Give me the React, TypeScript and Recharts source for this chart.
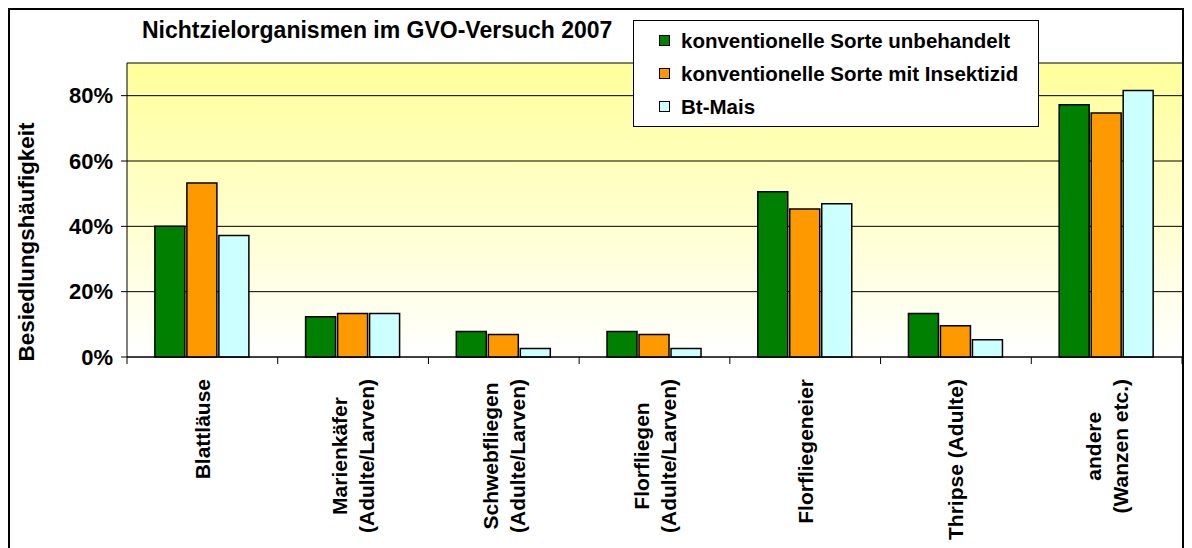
import { BarChart, Bar, XAxis, YAxis, CartesianGrid, Legend } from "recharts";

const categories = [
    "Blattläuse",
    "Marienkäfer\n(Adulte/Larven)",
    "Schwebfliegen\n(Adulte/Larven)",
    "Florfliegen\n(Adulte/Larven)",
    "Florfliegeneier",
    "Thripse (Adulte)",
    "andere\n(Wanzen etc.)",
];

const unbehandelt = [40, 12.3, 7.8, 7.8, 50.6, 13.3, 77.2];
const insektizid = [53.3, 13.3, 6.9, 6.9, 45.3, 9.6, 74.7];
const btMais = [37.2, 13.3, 2.6, 2.6, 46.9, 5.3, 81.6];

const yTicks = [0, 20, 40, 60, 80];

const SERIES = [
    { key: "unbehandelt", name: "konventionelle Sorte unbehandelt", color: "#008000" },
    { key: "insektizid", name: "konventionelle Sorte mit Insektizid", color: "#FF9900" },
    { key: "btMais", name: "Bt-Mais", color: "#CCFFFF" },
];

const data = categories.map((c, i) => ({
    name: c,
    unbehandelt: unbehandelt[i],
    insektizid: insektizid[i],
    btMais: btMais[i],
}));

const FONT = "'Liberation Sans', Arial, sans-serif";
const W = 1176;
const H = 540;
const MARGIN = { top: 55, right: 2, left: 0, bottom: 0 };
const Y_AXIS_W = 119;
const X_AXIS_H = 191;
const LABEL_FONT_SIZE = 21;
const LABEL_TOP = 22;
const LINE_H = 27;

let ctx: CanvasRenderingContext2D | null = null;
function textWidth(s: string) {
    if (!ctx) ctx = document.createElement("canvas").getContext("2d");
    if (!ctx) return s.length * 11;
    ctx.font = `bold ${LABEL_FONT_SIZE}px ${FONT}`;
    return ctx.measureText(s).width;
}

// category labels: rotated, lines centred, block hanging from the axis
function XTick(props: any) {
    const { x, y, payload, index } = props;
    const lines = String(payload.value).split("\n");
    const band = (W - MARGIN.left - MARGIN.right - Y_AXIS_W) / categories.length;
    const axisY = y - 6;
    const maxW = Math.max(...lines.map((l) => textWidth(l)));
    const cx = -(LABEL_TOP + maxW / 2);
    const y0 = (-(lines.length - 1) * LINE_H) / 2;
    return (
        <g>
            <line x1={x - band / 2} x2={x - band / 2} y1={axisY} y2={axisY + 7} stroke="#000" />
            {index === categories.length - 1 && (
                <line x1={x + band / 2} x2={x + band / 2} y1={axisY} y2={axisY + 7} stroke="#000" />
            )}
            <g transform={`translate(${x},${axisY}) rotate(-90)`}>
                {lines.map((l, i) => (
                    <text
                        key={i}
                        x={cx}
                        y={y0 + i * LINE_H}
                        textAnchor="middle"
                        dominantBaseline="central"
                        fontFamily={FONT}
                        fontWeight="bold"
                        fontSize={LABEL_FONT_SIZE}
                        fill="#000"
                    >
                        {l}
                    </text>
                ))}
            </g>
        </g>
    );
}

function LegendBox() {
    return (
        <div
            style={{
                border: "1px solid #000",
                background: "#fff",
                width: 406,
                height: 107,
                boxSizing: "border-box",
                paddingTop: 3,
                paddingLeft: 25,
            }}
        >
            {SERIES.map((s) => (
                <div key={s.key} style={{ display: "flex", alignItems: "center", height: 33 }}>
                    <span
                        style={{
                            display: "inline-block",
                            width: 9,
                            height: 9,
                            border: "1px solid #000",
                            background: s.color,
                            marginRight: 11,
                        }}
                    />
                    <span style={{ fontFamily: FONT, fontWeight: "bold", fontSize: 20.5, color: "#000" }}>
                        {s.name}
                    </span>
                </div>
            ))}
        </div>
    );
}

export default function App() {
    return (
        <div style={{ position: "relative", width: W, height: H, overflow: "hidden", fontFamily: FONT }}>
            <BarChart
                width={W}
                height={H}
                data={data}
                margin={MARGIN}
                barCategoryGap="18.5%"
                barGap={2}
            >
                <defs>
                    <linearGradient id="bgGrad" x1="0" y1="0" x2="0" y2="1">
                        <stop offset="0%" stopColor="#FFFF99" />
                        <stop offset="100%" stopColor="#FFFFFF" />
                    </linearGradient>
                </defs>
                <CartesianGrid vertical={false} stroke="#000" fill="url(#bgGrad)" fillOpacity={1} />
                <XAxis
                    dataKey="name"
                    height={X_AXIS_H}
                    interval={0}
                    tickLine={false}
                    tickSize={6}
                    tickMargin={0}
                    axisLine={{ stroke: "#000" }}
                    tick={<XTick />}
                />
                <YAxis
                    width={Y_AXIS_W}
                    domain={[0, 90]}
                    ticks={yTicks}
                    tickFormatter={(v) => `${v}%`}
                    tickSize={6}
                    tickMargin={8}
                    axisLine={{ stroke: "#000" }}
                    tickLine={{ stroke: "#000" }}
                    tick={{ fill: "#000", fontSize: 22, fontWeight: "bold", fontFamily: FONT }}
                    label={{
                        content: () => (
                            <text
                                x={26}
                                y={234}
                                transform="rotate(-90 26 234)"
                                textAnchor="middle"
                                fontFamily={FONT}
                                fontWeight="bold"
                                fontSize={22.4}
                                fill="#000"
                            >
                                Besiedlungshäufigkeit
                            </text>
                        ),
                    }}
                />
                <Legend
                    layout="vertical"
                    align="center"
                    verticalAlign="middle"
                    wrapperStyle={{ position: "absolute", left: 625, top: 12, width: 406 }}
                    content={() => <LegendBox />}
                />
                {SERIES.map((s) => (
                    <Bar
                        key={s.key}
                        dataKey={s.key}
                        name={s.name}
                        fill={s.color}
                        stroke="#000"
                        strokeWidth={1.5}
                        isAnimationActive={false}
                    />
                ))}
            </BarChart>
            <div
                style={{
                    position: "absolute",
                    left: 134,
                    top: 10.5,
                    fontFamily: FONT,
                    fontWeight: "bold",
                    fontSize: 23,
                    lineHeight: 1,
                    whiteSpace: "nowrap",
                    color: "#000",
                }}
            >
                Nichtzielorganismen im GVO-Versuch 2007
            </div>
            <div
                style={{
                    position: "absolute",
                    left: 0,
                    top: 0,
                    width: W,
                    height: H + 20,
                    border: "2px solid #000",
                    boxSizing: "border-box",
                    pointerEvents: "none",
                }}
            />
        </div>
    );
}
